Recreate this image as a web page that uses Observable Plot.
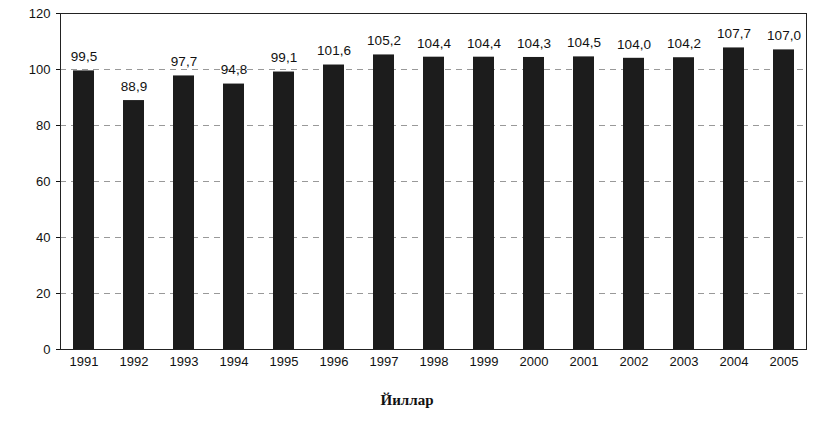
<!DOCTYPE html>
<html>
<head>
<meta charset="utf-8">
<script src="https://cdn.jsdelivr.net/npm/d3@7"></script>
<script src="https://cdn.jsdelivr.net/npm/@observablehq/plot@0.6"></script>
<style>
  html, body { margin: 0; padding: 0; background: #fff; }
  #chart { width: 824px; height: 424px; position: relative; }
  #xlabel { position: absolute; left: 0; width: 814px; top: 392px; text-align: center;
    font-family: "Liberation Serif", "DejaVu Serif", serif; font-weight: bold; font-size: 15px; color: #111; }
</style>
</head>
<body>
<div id="chart"></div>
<script>
const years = ["1991","1992","1993","1994","1995","1996","1997","1998","1999","2000","2001","2002","2003","2004","2005"];
const values = [99.5, 88.9, 97.7, 94.8, 99.1, 101.6, 105.2, 104.4, 104.4, 104.3, 104.5, 104.0, 104.2, 107.7, 107.0];
const yTicks = [0, 20, 40, 60, 80, 100, 120];
const xTitle = "Йиллар";

const data = years.map((y, i) => ({year: y, value: values[i]}));
const fmt = v => v.toFixed(1).replace(".", ",");

const plot = Plot.plot({
  width: 824,
  height: 380,
  marginLeft: 60,
  marginRight: 18,
  marginTop: 13,
  marginBottom: 31,
  style: {fontFamily: "'Liberation Sans', Arial, sans-serif", fontSize: "13px", color: "#111", background: "#fff"},
  x: {domain: years, paddingInner: 0.59, paddingOuter: 0.25, label: null, tickSize: 0, tickPadding: 7},
  y: {domain: [0, 120], ticks: yTicks, label: null, tickSize: 4, tickPadding: 6},
  marks: [
    Plot.gridY([20, 40, 60, 80, 100], {stroke: "#555", strokeOpacity: 0.6, strokeDasharray: "6,5"}),
    Plot.barY(data, {x: "year", y: "value", fill: "#1c1c1c"}),
    Plot.text(data, {x: "year", y: "value", text: d => fmt(d.value), dy: -14, fill: "#111", fontSize: 13.5}),
    Plot.frame({stroke: "#222", strokeWidth: 1})
  ]
});
document.getElementById("chart").appendChild(plot);
const lbl = document.createElement("div");
lbl.id = "xlabel";
lbl.textContent = xTitle;
document.getElementById("chart").appendChild(lbl);
</script>
</body>
</html>
